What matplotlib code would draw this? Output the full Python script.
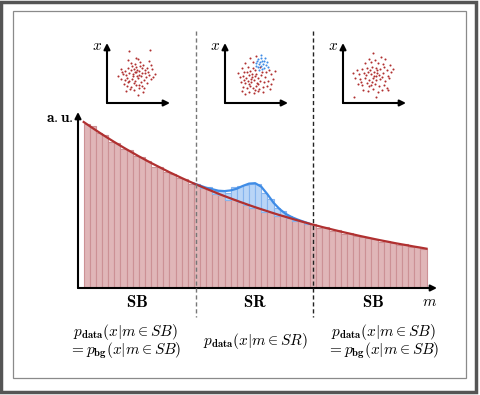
import numpy as np
import matplotlib
matplotlib.use("Agg")
import matplotlib.pyplot as plt
from matplotlib.patches import Rectangle

plt.rcParams["mathtext.fontset"] = "cm"

# background histogram (56 bins in m), bin contents
bg_counts = [164, 162, 155, 153, 146, 145, 139, 138, 132, 131,
             127, 121, 121, 116, 114, 110, 109, 104, 104, 100,
             99, 94, 93, 88, 89, 86, 83, 80, 80, 76,
             76, 72, 73, 70, 67, 67, 64, 64, 60, 61,
             57, 58, 54, 55, 52, 51, 50, 49, 46, 47,
             45, 43, 44, 41, 41, 39]

# smooth background fit, evaluated at the bin edges
bg_fit = [166.0, 161.8, 157.7, 153.7, 149.8, 146.0, 142.3, 138.7, 135.2, 131.7,
          128.4, 125.1, 122.0, 118.9, 115.8, 112.9, 110.0, 107.2, 104.5, 101.9,
          99.3, 96.8, 94.3, 91.9, 89.6, 87.3, 85.1, 82.9, 80.8, 78.8,
          76.8, 74.8, 72.9, 71.1, 69.3, 67.5, 65.8, 64.1, 62.5, 60.9,
          59.4, 57.9, 56.4, 55.0, 53.6, 52.2, 50.9, 49.6, 48.3, 47.1,
          45.9, 44.7, 43.6, 42.5, 41.4, 40.4, 39.3]

# signal on top of the background in the signal region (bins 18..36)
sig_first_bin = 18
sig_counts = [0.5, 1, 2, 3, 4, 7, 12, 16, 20, 24, 24, 19, 13, 8, 4, 2, 1, 0.5, 0.3]
# signal fit at edges 18..37
sig_fit = [0, 0.5, 1, 2, 3, 5, 8, 12, 17, 21.5, 24, 22.5, 17, 10.5, 6, 3, 1.5, 0.8, 0.3, 0]

# feature-space scatter for the three mass windows
left_pts = [(22, 52), (43, 53), (21, 43), (29, 45), (31, 44), (24, 40), (28, 39), (33, 41),
            (14, 34), (18, 32), (21, 35), (24, 33), (27, 34), (29, 36), (32, 32), (35, 35),
            (38, 33), (41, 31), (44, 38), (45, 34), (16, 29), (19, 28), (22, 30), (26, 29),
            (29, 31), (32, 28), (35, 30), (38, 30), (42, 28), (14, 24), (18, 23), (21, 21),
            (25, 24), (28, 22), (31, 25), (34, 21), (37, 23), (40, 20), (44, 24), (17, 19),
            (20, 17), (24, 16), (29, 18), (32, 15), (37, 15), (36, 11), (27, 13), (31, 8),
            (23, 14), (46, 26), (11, 27), (48, 29), (26, 27), (30, 27), (20, 25), (33, 37),
            (25, 37), (39, 26), (35, 17), (28, 31), (30, 33), (27, 20), (34, 27), (22, 22),
            (40, 35), (32, 18), (36, 38), (19, 12), (15, 31), (42, 42)]

mid_pts = [(25, 45), (31, 47), (20, 40), (28, 41), (17, 35), (23, 36), (13, 30), (19, 31),
           (25, 32), (30, 33), (44, 33), (50, 32), (15, 26), (18, 27), (21, 25), (24, 28),
           (27, 26), (30, 27), (33, 25), (36, 28), (40, 26), (46, 29), (16, 21), (20, 20),
           (23, 22), (26, 21), (29, 23), (32, 20), (35, 22), (39, 21), (43, 22), (48, 24),
           (18, 16), (22, 15), (25, 17), (28, 15), (31, 17), (34, 14), (38, 16), (42, 17),
           (46, 19), (24, 11), (29, 10), (33, 12), (38, 11), (20, 9), (27, 29), (22, 31),
           (31, 29), (37, 31), (26, 24), (19, 23), (33, 19), (41, 31), (28, 35), (35, 36),
           (17, 12), (45, 14), (30, 13), (24, 19)]

mid_sig_pts = [(33, 44), (36, 45), (39, 42), (31, 40), (35, 41), (38, 39), (41, 38), (33, 36),
               (36, 37), (39, 35), (42, 41), (34, 33), (37, 34), (31, 37), (40, 45), (36, 48),
               (43, 36), (34, 39), (37, 42), (32, 42)]

right_pts = [(30, 50), (38, 46), (42, 44), (26, 44), (32, 43), (22, 40), (28, 41), (35, 40),
             (40, 39), (47, 38), (14, 33), (19, 34), (24, 35), (29, 36), (33, 35), (37, 34),
             (41, 36), (44, 33), (48, 31), (10, 30), (16, 29), (21, 30), (25, 31), (28, 29),
             (31, 31), (34, 30), (36, 28), (40, 30), (45, 27), (12, 25), (17, 24), (22, 25),
             (26, 23), (30, 25), (33, 23), (37, 24), (42, 22), (46, 25), (15, 19), (19, 18),
             (24, 20), (28, 18), (32, 19), (36, 17), (41, 18), (44, 15), (20, 13), (25, 12),
             (30, 14), (35, 11), (39, 13), (45, 13), (11, 6), (33, 6), (23, 28), (27, 33),
             (33, 27), (39, 26), (18, 21), (29, 21), (34, 33), (31, 27), (26, 17), (50, 34)]

red = "#b03030"
pink = "#e0b6b8"
pink_edge = "#cc9195"
blue = "#3f8ce6"
light_blue = "#b9d5f7"
blue_edge = "#86b4ee"

W, H = 481, 395
fig = plt.figure(figsize=(W / 100, H / 100), dpi=100)


def px_axes(x0, y0, x1, y1):
    # axes placed by pixel box (top-left origin)
    return fig.add_axes([x0 / W, 1 - y1 / H, (x1 - x0) / W, (y1 - y0) / H])


arrow = dict(arrowstyle="-|>", lw=1.5, color="black", mutation_scale=9,
             shrinkA=0, shrinkB=0)

# main mass histogram
ax = px_axes(78, 112, 437, 288)
ax.axis("off")
nb = len(bg_counts)
edges = np.arange(nb + 1)
ax.bar(edges[:-1], bg_counts, width=1, align="edge", color=pink,
       edgecolor=pink_edge, linewidth=0.8, zorder=1)
s0, s1 = sig_first_bin, sig_first_bin + len(sig_counts)
ax.bar(edges[s0:s1], sig_counts, bottom=bg_counts[s0:s1], width=1, align="edge",
       color=light_blue, edgecolor=blue_edge, linewidth=0.8, zorder=1)
bg_fit = np.array(bg_fit)
ax.plot(edges[s0:s0 + len(sig_fit)], bg_fit[s0:s0 + len(sig_fit)] + np.array(sig_fit),
        color=blue, lw=1.6, zorder=3)
ax.plot(edges, bg_fit, color=red, lw=1.6, zorder=4)
ax.set_xlim(-0.93, 57.7)
ax.set_ylim(0, 176)
ax.annotate("", xy=(1, 0), xytext=(0, 0), xycoords="axes fraction", arrowprops=arrow)
ax.annotate("", xy=(0, 1), xytext=(0, 0), xycoords="axes fraction", arrowprops=arrow)

# small x-space panels
for x0, pts, extra in [(107, left_pts, None), (225, mid_pts, mid_sig_pts),
                       (343, right_pts, None)]:
    ia = px_axes(x0, 43, x0 + 63, 103)
    ia.axis("off")
    p = np.array(pts)
    ia.scatter(p[:, 0], p[:, 1], s=2.2, color=red, linewidths=0)
    if extra is not None:
        q = np.array(extra)
        ia.scatter(q[:, 0], q[:, 1], s=2.2, color=blue, linewidths=0)
    ia.set_xlim(0, 63)
    ia.set_ylim(0, 60)
    ia.annotate("", xy=(1, 0), xytext=(0, 0), xycoords="axes fraction", arrowprops=arrow)
    ia.annotate("", xy=(0, 1), xytext=(0, 0), xycoords="axes fraction", arrowprops=arrow)

# overlay in pixel coordinates for frames, region boundaries and labels
ov = fig.add_axes([0, 0, 1, 1], zorder=10)
ov.set_xlim(0, W)
ov.set_ylim(H, 0)
ov.axis("off")
ov.patch.set_visible(False)
ov.add_patch(Rectangle((1.5, 1.5), 475, 390, fill=False, edgecolor="#555555", lw=2.5))
ov.add_patch(Rectangle((13, 11), 453, 367, fill=False, edgecolor="#8a8a8a", lw=0.9))
ov.plot([196, 196], [31, 317], ls=(0, (3, 2)), color="#777777", lw=1.0)
ov.plot([313, 313], [31, 317], ls=(0, (3, 2)), color="#222222", lw=1.0)

ov.text(60, 118, r"$\mathbf{a{.}u{.}}$", fontsize=11, ha="center", va="center")
for xl in (97, 215, 333):
    ov.text(xl, 46, r"$x$", fontsize=11, ha="center", va="center")
ov.text(137, 302, r"$\mathbf{SB}$", fontsize=12, ha="center", va="center")
ov.text(255, 302, r"$\mathbf{SR}$", fontsize=12, ha="center", va="center")
ov.text(373, 302, r"$\mathbf{SB}$", fontsize=12, ha="center", va="center")
ov.text(430, 302, r"$m$", fontsize=11, ha="center", va="center")

sb_top = r"$p_{\mathbf{data}}(x|m\in SB)$"
sb_bot = r"$= p_{\mathbf{bg}}(x|m\in SB)$"
ov.text(125, 332, sb_top, fontsize=11, ha="center", va="center")
ov.text(125, 351, sb_bot, fontsize=11, ha="center", va="center")
ov.text(255, 341, r"$p_{\mathbf{data}}(x|m\in SR)$", fontsize=11, ha="center", va="center")
ov.text(383, 332, sb_top, fontsize=11, ha="center", va="center")
ov.text(383, 351, sb_bot, fontsize=11, ha="center", va="center")

fig.savefig("out.png", dpi=100, facecolor="white")
